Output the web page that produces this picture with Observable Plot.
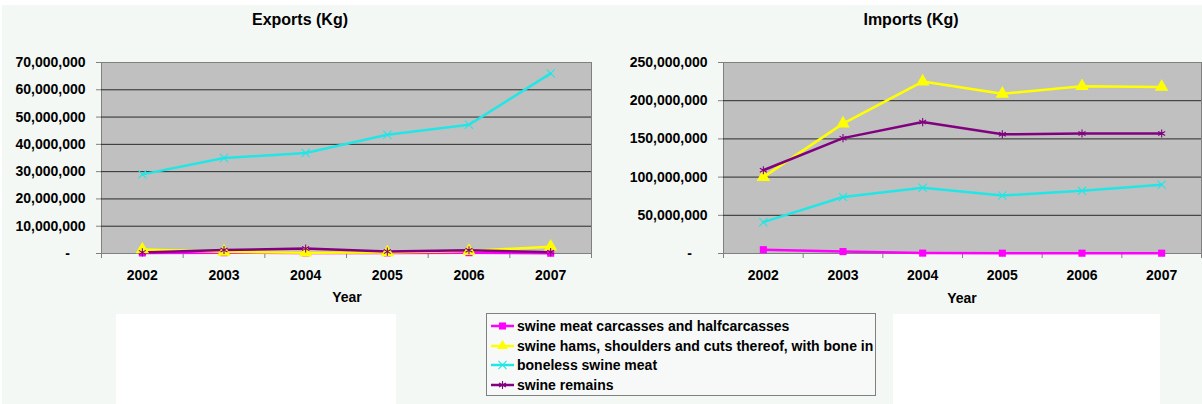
<!DOCTYPE html>
<html>
<head>
<meta charset="utf-8">
<script src="https://cdn.jsdelivr.net/npm/d3@7"></script>
<script src="https://cdn.jsdelivr.net/npm/@observablehq/plot@0.6"></script>
<style>
  body { margin: 0; background: #ffffff; font-family: "Liberation Sans", Arial, sans-serif; }
  #page { position: relative; width: 1202px; height: 404px; overflow: hidden; }
  #panel { position: absolute; left: 2px; top: 5px; width: 1200px; height: 399px; background: #f4f8f5; }
  .abs { position: absolute; }
  .title { font-weight: bold; font-size: 16px; transform: translate(-50%, -50%); white-space: nowrap; }
  .xlabel { font-weight: bold; font-size: 14px; transform: translate(-50%, -50%); white-space: nowrap; }
  .blank { background: #ffffff; }
  #legend { left: 486px; top: 313px; width: 388px; height: 81px; border: 1px solid #808080; background: #f6f9f7; }
  .row { position: absolute; left: 4px; height: 20px; display: flex; align-items: center; font-weight: bold; font-size: 14px; white-space: nowrap; }
  .row svg { margin-right: 3px; }
</style>
</head>
<body>
<div id="page">
  <div id="panel"></div>
  <div class="abs blank" style="left:116px; top:314px; width:280px; height:90px;"></div>
  <div class="abs blank" style="left:893px; top:314px; width:267px; height:90px;"></div>
  <div id="left" class="abs" style="left:0; top:0;"></div>
  <div id="right" class="abs" style="left:592px; top:0;"></div>
  <div class="abs title" style="left:300px; top:20px;">Exports (Kg)</div>
  <div class="abs title" style="left:911px; top:20px;">Imports (Kg)</div>
  <div class="abs xlabel" style="left:347px; top:297px;">Year</div>
  <div class="abs xlabel" style="left:962px; top:298px;">Year</div>
  <div id="legend" class="abs"></div>
</div>
<script>
// Years on the category axis
const years = [2002, 2003, 2004, 2005, 2006, 2007];

// Product series, in legend order
const series = [
  "swine meat carcasses and halfcarcasses",
  "swine hams, shoulders and cuts thereof, with bone in",
  "boneless swine meat",
  "swine remains"
];
const seriesColors = ["#ff00ff", "#ffff00", "#22e6e6", "#800080"];
const seriesSymbols = ["square", "triangle", "times", "asterisk"];

// Exports (kg)
const exportsCarcasses = [200000, 300000, 200000, 200000, 300000, 100000];
const exportsHams = [1500000, 600000, 300000, 400000, 900000, 2500000];
const exportsBoneless = [29000000, 35000000, 36800000, 43500000, 47200000, 66000000];
const exportsRemains = [400000, 1300000, 1800000, 700000, 1200000, 500000];

// Imports (kg)
const importsCarcasses = [5000000, 2500000, 500000, 400000, 400000, 400000];
const importsHams = [100000000, 170000000, 225000000, 209000000, 219000000, 218000000];
const importsBoneless = [41000000, 74000000, 86000000, 76000000, 82000000, 90000000];
const importsRemains = [109000000, 151000000, 172000000, 156000000, 157000000, 157000000];

// Value-axis ticks
const exportTicks = [0, 10000000, 20000000, 30000000, 40000000, 50000000, 60000000, 70000000];
const importTicks = [0, 50000000, 100000000, 150000000, 200000000, 250000000];

const fmt = d3.format(",");
const accounting = d => d === 0 ? "-\u00a0\u00a0\u00a0\u00a0" : fmt(d);

function toRows(columns) {
  return columns.flatMap((vals, i) => years.map((year, j) => ({year, value: vals[j], series: series[i]})));
}

function lineChart(columns, ticks, width, marginLeft) {
  const rows = toRows(columns);
  const bounds = [...years.map(y => y - 0.5), years[years.length - 1] + 0.5];
  const yMax = ticks[ticks.length - 1];
  const dotMarks = series.map((s, i) => {
    const filled = i < 2;
    return Plot.dot(rows.filter(d => d.series === s), {
      x: "year", y: "value",
      symbol: seriesSymbols[i],
      r: i === 0 ? 4 : i === 1 ? 5 : 3.8,
      fill: filled ? seriesColors[i] : "none",
      stroke: filled ? "none" : seriesColors[i],
      strokeWidth: 1.1
    });
  });
  return Plot.plot({
    width, height: 310,
    marginTop: 62, marginBottom: 57, marginLeft, marginRight: 1,
    x: {type: "linear", domain: [bounds[0], bounds[bounds.length - 1]], label: null},
    y: {domain: [0, yMax], label: null},
    color: {domain: series, range: seriesColors},
    style: {fontFamily: "'Liberation Sans', Arial, sans-serif", fontSize: "14px", fontWeight: "bold", color: "#000", background: "transparent", overflow: "visible"},
    marks: [
      Plot.frame({fill: "#c0c0c0", stroke: "#808080"}),
      Plot.ruleY(ticks.filter(t => t > 0 && t < yMax), {stroke: "#2a2a2a", strokeWidth: 1}),
      Plot.ruleY([0], {stroke: "#808080"}),
      Plot.axisY({ticks, tickSize: 5, tickPadding: 11, tickFormat: accounting, stroke: "#808080", label: null}),
      Plot.axisX({ticks: bounds, tickSize: 5, tickFormat: () => "", stroke: "#808080", label: null}),
      Plot.axisX({ticks: years, tickSize: 0, tickPadding: 17, tickFormat: d => String(d), label: null}),
      Plot.line(rows, {x: "year", y: "value", z: "series", stroke: "series", strokeWidth: 2.5}),
      ...dotMarks
    ]
  });
}

document.getElementById("left").append(
  lineChart([exportsCarcasses, exportsHams, exportsBoneless, exportsRemains], exportTicks, 592, 101)
);
document.getElementById("right").append(
  lineChart([importsCarcasses, importsHams, importsBoneless, importsRemains], importTicks, 610, 131)
);

// Legend: a short line with its marker, then the series name
const legend = d3.select("#legend");
series.forEach((s, i) => {
  const row = legend.append("div").attr("class", "row").style("top", (2 + i * 19.7) + "px");
  const svg = row.append("svg").attr("width", 23).attr("height", 12);
  svg.append("line").attr("x1", 0).attr("x2", 23).attr("y1", 6).attr("y2", 6)
    .attr("stroke", seriesColors[i]).attr("stroke-width", 2.5);
  const sym = {square: d3.symbolSquare, triangle: d3.symbolTriangle, times: d3.symbolTimes, asterisk: d3.symbolAsterisk}[seriesSymbols[i]];
  const filled = i < 2;
  svg.append("path").attr("transform", "translate(11.5,6)")
    .attr("d", d3.symbol(sym, filled ? 50 : 45)())
    .attr("fill", filled ? seriesColors[i] : "none")
    .attr("stroke", filled ? "none" : seriesColors[i]).attr("stroke-width", 1.1);
  row.append("span").text(s);
});
</script>
</body>
</html>
